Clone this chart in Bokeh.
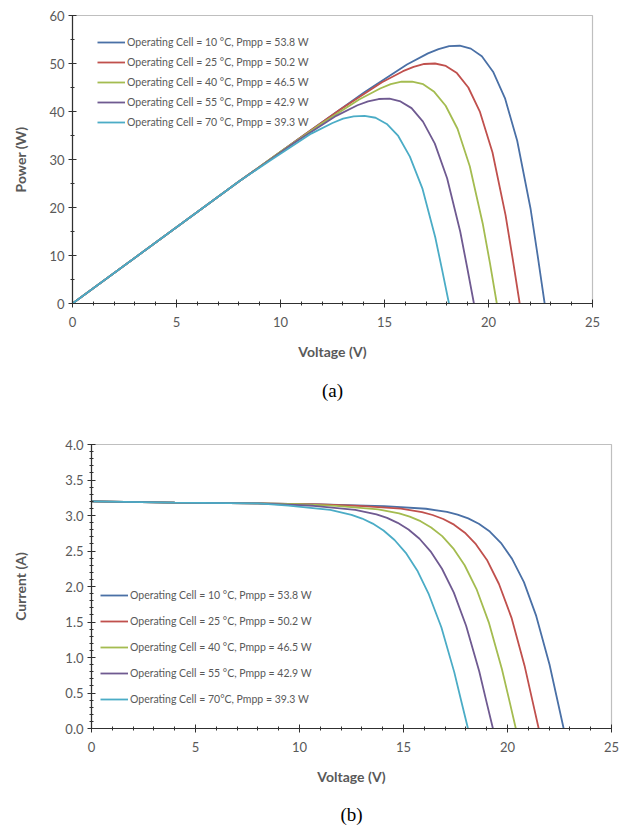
from bokeh.plotting import figure
from bokeh.models import Range1d, SingleIntervalTicker, Legend, LegendItem, Title, NumeralTickFormatter
from bokeh.embed import file_html
from bokeh.resources import INLINE

# ---- data ----
v10 = [0, 4, 8, 11, 14.07, 16.08, 17.09, 17.60, 18.11, 18.62, 19.15, 19.68, 20.22, 20.79, 21.38, 22.02, 22.36, 22.7]
i10 = [3.20, 3.18, 3.17, 3.155, 3.132, 3.095, 3.050, 3.012, 2.959, 2.883, 2.774, 2.616, 2.389, 2.061, 1.586, 0.901, 0.450, 0.0]
p10 = [0, 12.7, 25.4, 34.7, 44.1, 49.8, 52.1, 53.0, 53.6, 53.7, 53.1, 51.5, 48.3, 42.8, 33.9, 19.8, 10.1, 0]

v25 = [0, 4, 8, 11, 12.87, 14.88, 15.89, 16.40, 16.91, 17.43, 17.95, 18.48, 19.03, 19.59, 20.19, 20.82, 21.16, 21.5]
i25 = [3.20, 3.18, 3.17, 3.155, 3.136, 3.096, 3.047, 3.007, 2.951, 2.871, 2.758, 2.596, 2.365, 2.035, 1.562, 0.885, 0.442, 0.0]
p25 = [0, 12.7, 25.4, 34.7, 40.4, 46.1, 48.4, 49.3, 49.9, 50.0, 49.5, 48.0, 45.0, 39.9, 31.5, 18.4, 9.4, 0]

v40 = [0, 4, 8, 10, 11.77, 13.78, 14.79, 15.30, 15.82, 16.33, 16.86, 17.39, 17.94, 18.51, 19.10, 19.73, 20.07, 20.4]
i40 = [3.20, 3.18, 3.17, 3.16, 3.136, 3.087, 3.029, 2.984, 2.920, 2.832, 2.710, 2.538, 2.299, 1.964, 1.495, 0.838, 0.417, 0.0]
p40 = [0, 12.7, 25.4, 31.6, 36.9, 42.5, 44.8, 45.7, 46.2, 46.2, 45.7, 44.1, 41.2, 36.4, 28.6, 16.5, 8.4, 0]

v55 = [0, 4, 8, 10.67, 12.68, 13.70, 14.21, 14.72, 15.24, 15.77, 16.30, 16.85, 17.42, 18.01, 18.64, 18.97, 19.3]
i55 = [3.20, 3.18, 3.17, 3.137, 3.080, 3.016, 2.966, 2.897, 2.802, 2.673, 2.495, 2.250, 1.913, 1.448, 0.807, 0.400, 0.0]
p55 = [0, 12.7, 25.4, 33.5, 39.1, 41.3, 42.1, 42.6, 42.7, 42.1, 40.7, 37.9, 33.3, 26.1, 15.0, 7.6, 0]

v70 = [0, 4, 8, 9.47, 11.48, 12.50, 13.01, 13.52, 14.04, 14.57, 15.11, 15.66, 16.22, 16.82, 17.44, 17.77, 18.1]
i70 = [3.20, 3.18, 3.17, 3.139, 3.079, 3.010, 2.957, 2.886, 2.788, 2.655, 2.474, 2.226, 1.888, 1.426, 0.794, 0.395, 0.0]
p70 = [0, 12.7, 25.4, 29.7, 35.4, 37.6, 38.5, 39.0, 39.1, 38.7, 37.4, 34.9, 30.6, 24.0, 13.8, 7.0, 0]

labels_a = ["Operating Cell = 10 °C, Pmpp = 53.8 W",
            "Operating Cell = 25 °C, Pmpp = 50.2 W",
            "Operating Cell = 40 °C, Pmpp = 46.5 W",
            "Operating Cell = 55 °C, Pmpp = 42.9 W",
            "Operating Cell = 70 °C, Pmpp = 39.3 W"]
labels_b = ["Operating Cell = 10 °C, Pmpp = 53.8 W",
            "Operating Cell = 25 °C, Pmpp = 50.2 W",
            "Operating Cell = 40 °C, Pmpp = 46.5 W",
            "Operating Cell = 55 °C, Pmpp = 42.9 W",
            "Operating Cell = 70°C, Pmpp = 39.3 W"]
colors = ["#4a70a6", "#c0504d", "#a4bc50", "#6f5a91", "#4bacc6"]

volts = [v10, v25, v40, v55, v70]
powers = [p10, p25, p40, p55, p70]
currents = [i10, i25, i40, i55, i70]

FONT = "Lato"
TXT = "#595959"
AX = "#303030"


def style_axes(p, ylabel, y_int, y_minor, y_standoff):
    p.xaxis.ticker = SingleIntervalTicker(interval=5, num_minor_ticks=5)
    p.yaxis.ticker = SingleIntervalTicker(interval=y_int, num_minor_ticks=y_minor)
    p.xaxis.axis_label = "Voltage (V)"
    p.yaxis.axis_label = ylabel
    for ax in (p.xaxis[0], p.yaxis[0]):
        ax.axis_line_color = AX
        ax.axis_line_width = 1.2
        ax.major_tick_line_color = AX
        ax.minor_tick_line_color = AX
        ax.major_tick_in = 4
        ax.major_tick_out = 4
        ax.minor_tick_in = 2
        ax.minor_tick_out = 2
        ax.major_label_text_font = FONT
        ax.major_label_text_font_size = "13px"
        ax.major_label_text_color = TXT
        ax.axis_label_text_font = FONT
        ax.axis_label_text_font_size = "14px"
        ax.axis_label_text_font_style = "bold"
        ax.axis_label_text_color = TXT
    p.xaxis.major_label_standoff = 9
    p.xaxis.axis_label_standoff = 13
    p.yaxis.major_label_standoff = 4
    p.yaxis.axis_label_standoff = y_standoff
    p.xgrid.visible = False
    p.ygrid.visible = False
    p.outline_line_color = "#bfbfbf"
    p.outline_line_width = 1.2


def add_legend(p, renderers, labels, loc, spacing):
    leg = Legend(items=[LegendItem(label=l, renderers=[r]) for l, r in zip(labels, renderers)],
                 location=loc, padding=0, margin=0, spacing=spacing,
                 glyph_width=28, glyph_height=12, label_standoff=2,
                 label_text_font=FONT, label_text_font_size="10.5px",
                 label_text_color=TXT, border_line_alpha=0,
                 background_fill_alpha=0, label_height=12)
    p.add_layout(leg, "center")


def add_caption(p, text, standoff):
    t = Title(text=text, align="center", text_font="Liberation Serif",
              text_font_size="19px", text_font_style="normal", text_color="#000000",
              standoff=standoff)
    p.add_layout(t, "below")


# ---- chart (a) ----
pa = figure(width=628, height=415, x_range=Range1d(0, 25), y_range=Range1d(0, 60),
            output_backend="svg", toolbar_location=None,
            min_border_left=72, min_border_right=36, min_border_top=15, min_border_bottom=112)
style_axes(pa, "Power (W)", 10, 2, 17)
ra = [pa.line(v, pw, line_color=c, line_width=1.8) for v, pw, c in zip(volts, powers, colors)]
add_legend(pa, ra, labels_a, (25, 175), 8)
add_caption(pa, "(a)", 30)

# ---- chart (b) ----
pb = figure(width=628, height=423, x_range=Range1d(0, 25), y_range=Range1d(0, 4),
            output_backend="svg", toolbar_location=None,
            min_border_left=91, min_border_right=17, min_border_top=29, min_border_bottom=110)
style_axes(pb, "Current (A)", 0.5, 5, 33)
pb.yaxis.formatter = NumeralTickFormatter(format="0.0")
rb = [pb.line(v, cur, line_color=c, line_width=1.8) for v, cur, c in zip(volts, currents, colors)]
add_legend(pb, rb, labels_b, (9, 23), 14)
add_caption(pb, "(b)", 28)

open("out.html", "w").write(file_html([pa, pb], INLINE))
